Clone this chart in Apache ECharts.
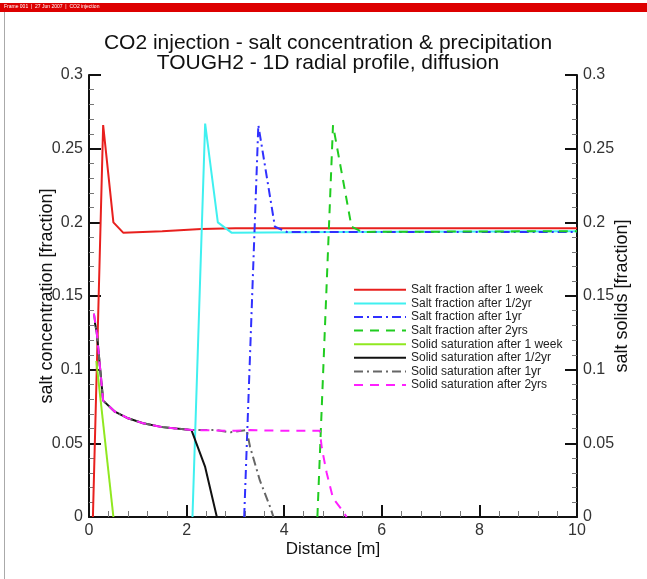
<!DOCTYPE html>
<html>
<head>
<meta charset="utf-8">
<script src="https://cdn.jsdelivr.net/npm/echarts@6/dist/echarts.min.js"></script>
<style>
html,body{margin:0;padding:0;background:#fff;}
#c{width:647px;height:579px;}
</style>
</head>
<body>
<div id="c"></div>
<script>
// ---- data ----
var titleLines = ['CO2 injection - salt concentration & precipitation', 'TOUGH2 - 1D radial profile, diffusion'];
var headerText = 'Frame 001  |  27 Jun 2007  |  CO2 injection';
var xName = 'Distance [m]';
var yLeftName = 'salt concentration [fraction]';
var yRightName = 'salt solids [fraction]';
var seriesNames = [
  'Salt fraction after 1 week',
  'Salt fraction after 1/2yr',
  'Salt fraction after 1yr',
  'Salt fraction after 2yrs',
  'Solid saturation after 1 week',
  'Solid saturation after 1/2yr',
  'Solid saturation after 1yr',
  'Solid saturation after 2yrs'
];
var saltWeek = [[0.08,0],[0.29,0.266],[0.5,0.2],[0.7,0.193],[1.5,0.194],[2.3,0.1955],[3,0.196],[5,0.196],[10,0.196]];
var saltHalf = [[2.12,0],[2.38,0.267],[2.64,0.2],[2.92,0.193],[5,0.1935],[10,0.194]];
var salt1yr  = [[3.18,0],[3.47,0.266],[3.81,0.197],[4.05,0.1935],[10,0.1935]];
var salt2yr  = [[4.68,0],[5.0,0.266],[5.38,0.197],[5.6,0.1935],[10,0.194]];
var solidWeek = [[0.15,0.106],[0.5,0]];
var solidHalf = [[0.12,0.132],[0.16,0.125],[0.23,0.1],[0.29,0.079],[0.53,0.0715],[0.8,0.067],[1.11,0.0636],[1.5,0.061],[2.1,0.059],[2.38,0.034],[2.62,0]];
var solid1yr  = [[0.1,0.138],[0.16,0.125],[0.23,0.1],[0.29,0.079],[0.53,0.0715],[0.8,0.067],[1.11,0.0636],[1.5,0.061],[2.1,0.059],[2.6,0.059],[2.9,0.0575],[3.23,0.059],[3.3,0.0477],[3.5,0.025],[3.71,0.007],[3.78,0]];
var solid2yr  = [[0.1,0.138],[0.16,0.125],[0.23,0.1],[0.29,0.079],[0.53,0.0715],[0.8,0.067],[1.11,0.0636],[1.5,0.061],[2.1,0.059],[3.0,0.0585],[3.3,0.059],[4.0,0.0585],[4.73,0.0585],[4.77,0.047],[4.87,0.03],[5.0,0.0127],[5.18,0.005],[5.28,0]];
var allData = [saltWeek, saltHalf, salt1yr, salt2yr, solidWeek, solidHalf, solid1yr, solid2yr];
var xTicks = {min:0, max:10, interval:2};
var yTicks = {min:0, max:0.3, interval:0.05};

// ---- styles ----
var colors = ['#e8201e','#40f0f0','#3030ff','#20cc20','#90e820','#111111','#666666','#ff20ff'];
var dashes = ['solid','solid',[9,4,2,4],[9,7],'solid','solid',[9,4,2,4],[9,7]];
var yAxisIdx = [0,0,0,0,1,1,1,1];

var FONT = '"Liberation Sans", Arial, sans-serif';
var chart = echarts.init(document.getElementById('c'), null, {renderer:'canvas'});

function mkAxis(pos, name, gap){
  return {
    type:'value', position: pos, min:yTicks.min, max:yTicks.max, interval:yTicks.interval,
    name:name, nameLocation:'middle', nameGap:gap, nameRotate:90, nameMoveOverlap:false,
    nameTextStyle:{fontFamily:FONT, fontSize:18, color:'#111'},
    axisLine:{show:true, onZero:false, lineStyle:{color:'#111', width:2}},
    axisTick:{show:true, inside:true, length:12, lineStyle:{color:'#111', width:2}},
    minorTick:{show:true, splitNumber:5, length:5, lineStyle:{color:'#777', width:1}},
    axisLabel:{fontFamily:FONT, fontSize:16, color:'#333', margin:6},
    splitLine:{show:false}
  };
}

var series = seriesNames.map(function(n,i){
  return {
    name:n, type:'line', yAxisIndex:yAxisIdx[i], data:allData[i],
    showSymbol:false, symbol:'none', animation:false, clip:true,
    lineStyle:{color:colors[i], width:2, type:dashes[i]},
    itemStyle:{color:colors[i]}
  };
});

chart.setOption({
  animation:false,
  backgroundColor:'#fff',
  title:{
    text: titleLines.join('\n'), left:323, textAlign:'center', top:28,
    textStyle:{fontFamily:FONT, fontSize:21, fontWeight:'normal', color:'#111', lineHeight:20}
  },
  grid:{left:89, right:70, top:75, bottom:62, containLabel:false},
  xAxis:{
    type:'value', min:xTicks.min, max:xTicks.max, interval:xTicks.interval,
    name:xName, nameLocation:'middle', nameGap:24, nameMoveOverlap:false,
    nameTextStyle:{fontFamily:FONT, fontSize:17, color:'#111'},
    axisLine:{show:true, onZero:false, lineStyle:{color:'#111', width:2}},
    axisTick:{show:true, inside:true, length:12, lineStyle:{color:'#111', width:2}},
    minorTick:{show:true, splitNumber:5, length:6, lineStyle:{color:'#777', width:1}},
    axisLabel:{fontFamily:FONT, fontSize:16, color:'#333', margin:6},
    splitLine:{show:false}
  },
  yAxis:[mkAxis('left', yLeftName, 33), mkAxis('right', yRightName, 36)],
  legend:{
    orient:'vertical', left:348, top:278, itemWidth:52, itemHeight:8, itemGap:0,
    data: seriesNames,
    itemStyle:{opacity:0},
    textStyle:{fontFamily:FONT, fontSize:12, color:'#222', lineHeight:13.6},
    selectedMode:false
  },
  graphic:[
    {type:'rect', left:0, top:3, shape:{width:647, height:9}, style:{fill:'#dd0000'}, silent:true},
    {type:'text', left:4, top:4, style:{text:headerText, fill:'#fff', font:'5px "Liberation Sans", Arial'}, silent:true},
    {type:'rect', left:4, top:12, shape:{width:1, height:567}, style:{fill:'#aaaaaa'}, silent:true}
  ],
  series: series
});
</script>
</body>
</html>
